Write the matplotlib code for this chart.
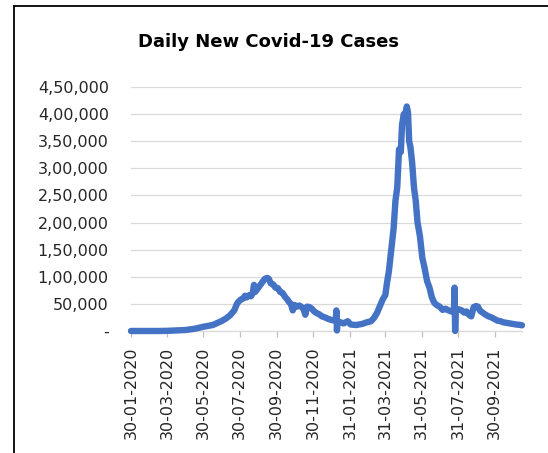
import matplotlib
matplotlib.use("Agg")
import matplotlib.pyplot as plt
from matplotlib.lines import Line2D
import pandas as pd

# ---- data ----
dates = [
    "2020-01-30", "2020-02-15", "2020-03-01", "2020-03-15", "2020-03-31",
    "2020-04-15", "2020-04-30", "2020-05-15", "2020-05-31", "2020-06-15",
    "2020-06-30", "2020-07-07", "2020-07-14", "2020-07-21", "2020-07-25",
    "2020-07-28", "2020-08-01", "2020-08-05", "2020-08-08", "2020-08-11",
    "2020-08-15", "2020-08-18", "2020-08-21", "2020-08-23", "2020-08-25",
    "2020-08-29", "2020-09-02", "2020-09-06", "2020-09-10", "2020-09-14",
    "2020-09-17", "2020-09-20", "2020-09-24", "2020-09-28", "2020-10-02",
    "2020-10-06", "2020-10-10", "2020-10-14", "2020-10-18", "2020-10-21",
    "2020-10-24", "2020-10-27", "2020-10-30", "2020-11-03", "2020-11-07",
    "2020-11-11", "2020-11-14", "2020-11-17", "2020-11-20", "2020-11-24",
    "2020-11-28", "2020-12-02", "2020-12-06", "2020-12-10", "2020-12-15",
    "2020-12-20", "2020-12-26", "2021-01-01", "2021-01-07", "2021-01-08",
    "2021-01-09", "2021-01-10", "2021-01-15", "2021-01-20", "2021-01-27",
    "2021-02-01", "2021-02-10", "2021-02-20", "2021-02-28", "2021-03-07",
    "2021-03-12", "2021-03-17", "2021-03-22", "2021-03-27", "2021-03-31",
    "2021-04-03", "2021-04-06", "2021-04-10", "2021-04-14", "2021-04-17",
    "2021-04-20", "2021-04-23", "2021-04-26", "2021-04-28", "2021-05-01",
    "2021-05-03", "2021-05-06", "2021-05-08", "2021-05-10", "2021-05-12",
    "2021-05-15", "2021-05-18", "2021-05-21", "2021-05-24", "2021-05-28",
    "2021-06-01", "2021-06-05", "2021-06-09", "2021-06-13", "2021-06-17",
    "2021-06-21", "2021-06-25", "2021-06-30", "2021-07-05", "2021-07-10",
    "2021-07-15", "2021-07-20", "2021-07-24", "2021-07-25", "2021-07-26",
    "2021-07-27", "2021-08-01", "2021-08-06", "2021-08-10", "2021-08-14",
    "2021-08-18", "2021-08-22", "2021-08-26", "2021-08-30", "2021-09-02",
    "2021-09-06", "2021-09-10", "2021-09-15", "2021-09-20", "2021-09-25",
    "2021-09-30", "2021-10-05", "2021-10-10", "2021-10-15", "2021-10-20",
    "2021-10-25", "2021-10-30", "2021-11-05", "2021-11-10", "2021-11-15",
]
new_cases = [
    0, 0, 0, 20, 300,
    1000, 1800, 4000, 8000, 11000,
    18500, 23000, 29000, 38000, 49000,
    54000, 58000, 60000, 65000, 62000,
    66000, 64000, 70000, 85000, 72000,
    78000, 84000, 90000, 96000, 98000,
    96000, 88000, 86000, 80000, 79000,
    72000, 70000, 63000, 58000, 53000,
    50000, 38000, 48000, 45000, 47000,
    44000, 41000, 30000, 45000, 44000,
    41000, 36000, 33000, 31000, 27000,
    25000, 22000, 20000, 20000, 38000,
    1000, 18000, 16000, 14000, 18000,
    12000, 11000, 13000, 16000, 18000,
    24000, 33000, 46000, 59000, 66000,
    90000, 110000, 150000, 190000, 240000,
    265000, 335000, 330000, 380000, 400000,
    392000, 414000, 403000, 350000, 340000,
    310000, 265000, 240000, 200000, 175000,
    135000, 115000, 92000, 80000, 62000,
    52000, 48000, 45000, 39000, 41000,
    38000, 36000, 38000, 80000, 0,
    38000, 40000, 38000, 34000, 36000,
    30000, 27000, 44000, 46000, 45000,
    37000, 34000, 30000, 27000, 25000,
    22000, 19000, 18000, 16000, 15000,
    14000, 13000, 12000, 11500, 10500,
]
x_tick_dates = ["2020-01-30", "2020-03-30", "2020-05-30", "2020-07-30",
                "2020-09-30", "2020-11-30", "2021-01-31", "2021-03-31",
                "2021-05-31", "2021-07-31", "2021-09-30"]
x_tick_labels = ["30-01-2020", "30-03-2020", "30-05-2020", "30-07-2020",
                 "30-09-2020", "30-11-2020", "31-01-2021", "31-03-2021",
                 "31-05-2021", "31-07-2021", "30-09-2021"]
y_ticks = [0, 50000, 100000, 150000, 200000, 250000, 300000, 350000, 400000, 450000]
y_tick_labels = ["-", "50,000", "1,00,000", "1,50,000", "2,00,000", "2,50,000",
                 "3,00,000", "3,50,000", "4,00,000", "4,50,000"]
title = "Daily New Covid-19 Cases"

# ---- figure ----
W, H = 548, 453
fig = plt.figure(figsize=(W / 100, H / 100), dpi=100)
fig.patch.set_facecolor("white")

left, right, top, bottom = 131, 522, 87, 331
ax = fig.add_axes([left / W, 1 - bottom / H, (right - left) / W, (bottom - top) / H])

x = pd.to_datetime(dates)
ax.plot(x, new_cases, color="#4472C4", lw=4.6, solid_joinstyle="round",
        solid_capstyle="round", clip_on=False, zorder=3)

ax.set_xlim(pd.Timestamp("2020-01-30"), pd.Timestamp("2021-11-15"))
ax.set_ylim(0, 450000)

ax.set_yticks(y_ticks)
ax.set_yticklabels(y_tick_labels)
ax.set_xticks(pd.to_datetime(x_tick_dates))
ax.set_xticklabels(x_tick_labels, rotation=90)

ax.grid(axis="y", color="#D9D9D9", lw=0.9)
ax.set_axisbelow(True)
for s in ["top", "right", "left"]:
    ax.spines[s].set_visible(False)
ax.spines["bottom"].set_color("#D9D9D9")
ax.spines["bottom"].set_linewidth(0.9)

ax.tick_params(axis="y", length=0, pad=16, labelsize=11.5, labelcolor="#262626")
ax.tick_params(axis="x", direction="out", length=4, width=0.9, color="#BFBFBF",
               pad=7, labelsize=11.5, labelcolor="#262626")

fig.text(268 / W, 1 - 42 / H, title, ha="center", va="center",
         fontsize=13, fontweight="bold", color="black")

# outer chart border (extends past the right and bottom of the picture)
bx, by = 13.5 / W, 1 - 5.5 / H
fig.add_artist(Line2D([bx, bx], [-0.1, by], transform=fig.transFigure,
                      color="black", lw=1.3))
fig.add_artist(Line2D([bx, 1.1], [by, by], transform=fig.transFigure,
                      color="black", lw=1.3))

fig.savefig("out.png", dpi=100)
